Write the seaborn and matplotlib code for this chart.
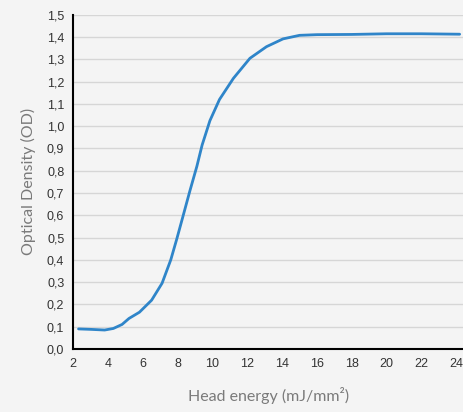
import numpy as np
import pandas as pd
import matplotlib
matplotlib.use('Agg')
import matplotlib.pyplot as plt
import seaborn as sns

# values
energy = [2.3, 3.0, 3.8, 4.3, 4.8, 5.2, 5.8, 6.5, 7.1, 7.6, 7.95, 8.3, 8.7, 9.1,
          9.4, 9.85, 10.4, 11.2, 12.15, 13.1, 14.05, 15.0, 16.0, 18.0, 20.0, 22.0, 24.2]
density = [0.09, 0.088, 0.085, 0.092, 0.11, 0.137, 0.165, 0.219, 0.295, 0.40, 0.495, 0.595, 0.71, 0.82,
           0.915, 1.025, 1.12, 1.215, 1.305, 1.357, 1.392, 1.408, 1.411, 1.412, 1.415, 1.415, 1.413]
xticks = list(range(2, 25, 2))
yticks = [round(0.1 * i, 1) for i in range(16)]

df = pd.DataFrame({'energy': energy, 'od': density})

sns.set_style('white')
plt.rcParams['font.family'] = ['Liberation Sans', 'DejaVu Sans']

fig = plt.figure(figsize=(4.64, 4.12), dpi=100)
fig.patch.set_facecolor('#f4f4f4')
ax = fig.add_axes([0.158, 0.153, 0.842, 0.811])
ax.set_facecolor('#f4f4f4')

sns.lineplot(data=df, x='energy', y='od', ax=ax, color='#2f85c9', linewidth=2)
ax.lines[0].set_solid_joinstyle('round')

ax.set_xlim(2, 24.45)
ax.set_ylim(0, 1.5)
ax.set_xticks(xticks)
ax.set_yticks(yticks)
ax.set_yticklabels([f'{v:.1f}'.replace('.', ',') for v in yticks])
ax.yaxis.grid(True, color='#d6d6d6', linewidth=1)
ax.set_axisbelow(True)

for s in ['top', 'right']:
    ax.spines[s].set_visible(False)
for s in ['left', 'bottom']:
    ax.spines[s].set_color('black')
    ax.spines[s].set_linewidth(1.5)
ax.tick_params(direction='inout', length=7, width=1.2, colors='black',
               labelcolor='#333333', labelsize=9, pad=3)

ax.set_xlabel('Head energy (mJ/mm²)', fontsize=11.5, color='#7a7a7a',
              family=['Lato', 'DejaVu Sans'], labelpad=12)
ax.set_ylabel('Optical Density (OD)', fontsize=11.5, color='#7a7a7a',
              family=['Lato', 'DejaVu Sans'], labelpad=8)

fig.savefig('out.png', dpi=100, facecolor=fig.get_facecolor())
